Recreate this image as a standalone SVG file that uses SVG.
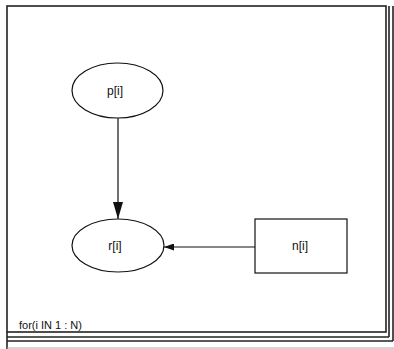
<svg xmlns="http://www.w3.org/2000/svg" width="394" height="349" viewBox="0 0 394 349">
<style>
.frame{fill:none;stroke:#222;stroke-width:1.6}
.node{fill:#fff;stroke:#111;stroke-width:1.2}
.lbl{font-family:"Liberation Sans",Arial,sans-serif;font-size:12px;fill:#111;text-anchor:middle}
.edge{stroke:#111;stroke-width:1.2;fill:none}
</style>
<defs>
<marker id="ah" markerWidth="17" markerHeight="10" refX="17" refY="5" orient="auto" markerUnits="userSpaceOnUse" viewBox="0 0 17 10">
<path d="M0,0 L17,5 L0,10 Z" fill="#111"/>
</marker>
<marker id="ahs" markerWidth="10" markerHeight="7" refX="10" refY="3.5" orient="auto" markerUnits="userSpaceOnUse" viewBox="0 0 10 7">
<path d="M0,0 L10,3.5 L0,7 Z" fill="#111"/>
</marker>
</defs>
<rect x="0" y="0" width="394" height="349" fill="#fff"/>
<g id="frame">
<rect class="frame" x="7" y="6" width="379" height="326"/>
<line class="frame" x1="389" y1="6" x2="389" y2="337"/>
<line class="frame" x1="393" y1="6" x2="393" y2="341"/>
<line class="frame" x1="7" y1="337" x2="389" y2="337"/>
<line class="frame" x1="7" y1="341" x2="393" y2="341"/>
<line class="frame" x1="7" y1="332" x2="7" y2="349"/>
<line x1="7" y1="348" x2="394" y2="348" stroke="#aaa" stroke-width="1"/>
<text x="19" y="329" font-family="Liberation Sans,Arial,sans-serif" font-size="11" fill="#111">for(i IN 1 : N)</text>
</g>
<g id="connectors">
<line class="edge" x1="118" y1="118" x2="118" y2="219" marker-end="url(#ah)"/>
<line class="edge" x1="255" y1="247" x2="164" y2="247" marker-end="url(#ahs)"/>
</g>
<g id="node-p">
<ellipse class="node" cx="117.5" cy="90.5" rx="45.5" ry="27.5"/>
<text class="lbl" x="115" y="95">p[i]</text>
</g>
<g id="node-r">
<ellipse class="node" cx="118" cy="245.5" rx="46" ry="26.5"/>
<text class="lbl" x="115" y="250">r[i]</text>
</g>
<g id="node-n">
<rect class="node" x="255" y="219" width="92" height="54"/>
<text class="lbl" x="300" y="250">n[i]</text>
</g>
</svg>
